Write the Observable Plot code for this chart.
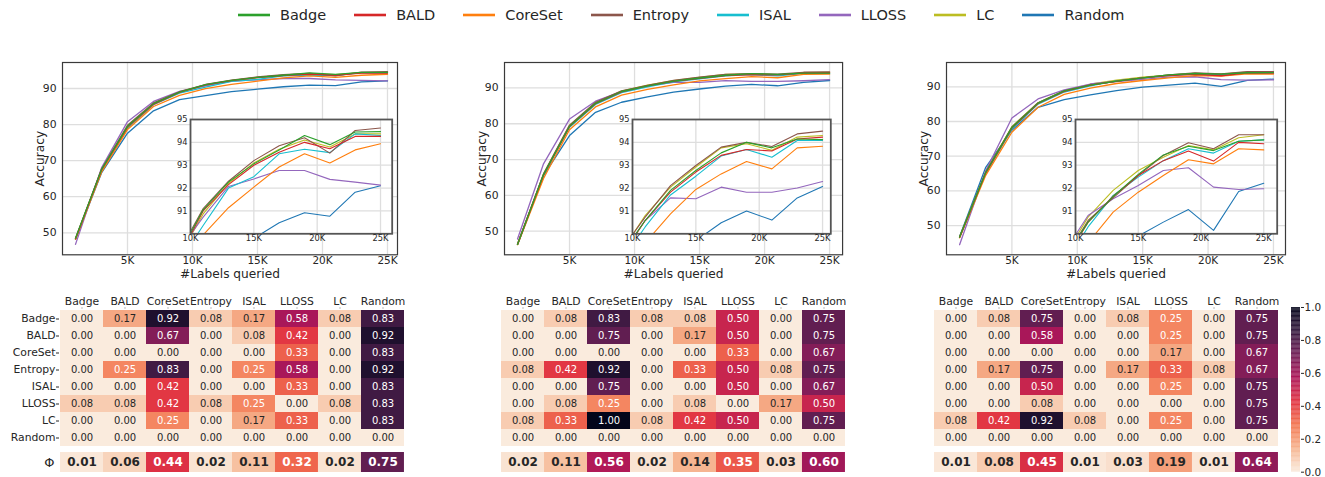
<!DOCTYPE html>
<html><head><meta charset="utf-8">
<script src="https://cdn.jsdelivr.net/npm/d3@7"></script>
<script src="https://cdn.jsdelivr.net/npm/@observablehq/plot@0.6"></script>
<style>
body{margin:0;background:#fff;font-family:"DejaVu Sans",sans-serif;}
#root{position:relative;width:1325px;height:477px;overflow:hidden;background:#fff;}
.abs{position:absolute;}
</style></head><body><div id="root"></div><script>
// ---------- data ----------
const methods = ["Badge","BALD","CoreSet","Entropy","ISAL","LLOSS","LC","Random"];
const colors  = ["#2ca02c","#d62728","#ff7f0e","#8c564b","#17becf","#9467bd","#bcbd22","#1f77b4"];
const labelsQueried = [1000,3000,5000,7000,9000,11000,13000,15000,17000,19000,21000,23000,25000];

// accuracy, rows in methods order
const acc1 = [
  [48.5,67.5,79.5,85.8,89.0,91.05,92.26,93.06,93.67,94.30,93.90,94.45,94.47],
  [48.3,67.4,79.3,85.6,88.9,91.00,92.15,93.00,93.57,94.00,93.72,94.26,94.26],
  [48.2,66.8,78.6,85.0,88.1,89.95,91.14,92.04,92.92,93.50,93.10,93.67,93.94],
  [48.4,67.6,79.8,86.0,89.1,91.10,92.30,93.20,93.85,94.20,93.53,94.52,94.63],
  [48.3,67.2,79.0,85.5,88.7,90.36,92.00,92.50,93.50,93.70,93.55,94.37,94.30],
  [46.8,68.0,80.8,86.4,89.2,90.73,92.07,92.40,92.77,92.77,92.38,92.26,92.13],
  [48.3,67.3,79.4,85.7,88.9,90.87,92.20,93.10,93.70,94.10,93.80,94.37,94.37],
  [48.2,66.6,77.6,83.8,86.9,88.00,89.10,89.80,90.48,90.92,90.77,91.82,92.10]
];
const acc2 = [
  [46.3,65.8,79.3,85.7,89.0,90.58,91.90,92.77,93.54,94.00,93.76,94.15,94.12],
  [46.3,65.7,79.2,85.6,88.9,90.58,91.82,92.70,93.43,93.69,93.62,94.15,94.23],
  [46.2,64.7,78.3,84.7,88.0,89.60,90.87,91.94,92.62,93.16,92.84,93.76,93.83],
  [46.4,66.0,79.6,86.0,89.2,90.73,92.11,92.99,93.79,94.00,93.82,94.37,94.49],
  [46.3,65.6,79.0,85.4,88.7,90.30,91.70,92.52,93.40,93.69,93.35,94.08,94.08],
  [47.8,68.8,81.3,86.3,89.0,90.58,91.57,91.53,92.04,91.82,91.82,92.00,92.29],
  [46.3,65.9,79.5,85.8,89.1,90.80,92.04,92.92,93.76,93.94,93.65,94.23,94.30],
  [46.3,65.5,76.7,83.2,86.0,87.50,88.80,89.70,90.48,91.00,90.60,91.57,92.07]
];
const acc3 = [
  [46.7,65.3,78.3,85.3,88.8,90.51,91.63,92.60,93.45,93.83,93.64,94.05,94.11],
  [46.6,65.2,78.1,85.2,88.7,90.50,91.65,92.55,93.20,93.62,93.18,94.00,93.94],
  [46.5,64.5,76.9,84.1,87.8,89.60,90.95,91.82,92.55,93.24,93.06,93.72,93.67],
  [46.7,65.4,78.4,85.4,88.8,90.58,91.57,92.55,93.43,93.98,93.72,94.33,94.33],
  [46.6,65.0,77.8,85.0,88.5,90.30,91.68,92.48,93.20,93.72,93.53,94.05,94.11],
  [44.5,65.8,81.0,86.5,89.1,90.80,91.53,92.11,92.77,92.89,92.04,91.94,91.97],
  [46.7,65.4,78.5,85.4,88.9,90.73,91.90,92.77,93.35,93.86,93.67,94.20,94.33],
  [46.8,66.8,77.5,84.1,86.3,87.70,88.90,89.90,90.51,91.06,90.15,91.85,92.21]
];

// pairwise matrices, rows/cols in methods order
const mat1 = [
  [0.00,0.17,0.92,0.08,0.17,0.58,0.08,0.83],
  [0.00,0.00,0.67,0.00,0.08,0.42,0.00,0.92],
  [0.00,0.00,0.00,0.00,0.00,0.33,0.00,0.83],
  [0.00,0.25,0.83,0.00,0.25,0.58,0.00,0.92],
  [0.00,0.00,0.42,0.00,0.00,0.33,0.00,0.83],
  [0.08,0.08,0.42,0.08,0.25,0.00,0.08,0.83],
  [0.00,0.00,0.25,0.00,0.17,0.33,0.00,0.83],
  [0.00,0.00,0.00,0.00,0.00,0.00,0.00,0.00]
];
const phi1 = [0.01,0.06,0.44,0.02,0.11,0.32,0.02,0.75];
const mat2 = [
  [0.00,0.08,0.83,0.08,0.08,0.50,0.00,0.75],
  [0.00,0.00,0.75,0.00,0.17,0.50,0.00,0.75],
  [0.00,0.00,0.00,0.00,0.00,0.33,0.00,0.67],
  [0.08,0.42,0.92,0.00,0.33,0.50,0.08,0.75],
  [0.00,0.00,0.75,0.00,0.00,0.50,0.00,0.67],
  [0.00,0.08,0.25,0.00,0.08,0.00,0.17,0.50],
  [0.08,0.33,1.00,0.08,0.42,0.50,0.00,0.75],
  [0.00,0.00,0.00,0.00,0.00,0.00,0.00,0.00]
];
const phi2 = [0.02,0.11,0.56,0.02,0.14,0.35,0.03,0.60];
const mat3 = [
  [0.00,0.08,0.75,0.00,0.08,0.25,0.00,0.75],
  [0.00,0.00,0.58,0.00,0.00,0.25,0.00,0.75],
  [0.00,0.00,0.00,0.00,0.00,0.17,0.00,0.67],
  [0.00,0.17,0.75,0.00,0.17,0.33,0.08,0.67],
  [0.00,0.00,0.50,0.00,0.00,0.25,0.00,0.75],
  [0.00,0.00,0.08,0.00,0.00,0.00,0.00,0.75],
  [0.08,0.42,0.92,0.08,0.00,0.25,0.00,0.75],
  [0.00,0.00,0.00,0.00,0.00,0.00,0.00,0.00]
];
const phi3 = [0.01,0.08,0.45,0.01,0.03,0.19,0.01,0.64];

const mainXTicks = [5000,10000,15000,20000,25000];
const mainYTicks = [50,60,70,80,90];
const insetXTicks = [10000,15000,20000,25000];
const insetYTicks = [91,92,93,94,95];
const cbarTicks = [0,0.2,0.4,0.6,0.8,1.0];

// rocket_r colormap stops
const rocketDomain = [0,1/7,2/7,3/7,4/7,5/7,6/7,1];
const rocketRange = ["#faebdd","#f6b48f","#f37651","#e13342","#ad1759","#701f57","#35193e","#03051a"];

// ---------- helpers ----------
const root = document.getElementById("root");
const FONT = "DejaVu Sans";
const TXT = "#262626";
function place(svg, left, top) {
  const d = document.createElement("div");
  d.className = "abs";
  d.style.left = left + "px";
  d.style.top = top + "px";
  d.appendChild(svg);
  root.appendChild(d);
}
function series(acc) {
  const out = [];
  for (let i = methods.length - 1; i >= 0; i--)
    labelsQueried.forEach((x, j) => out.push({method: methods[i], x, y: acc[i][j]}));
  return out;
}
const kfmt = d => (d / 1000) + "K";

function mainChart(acc, fr, xDomain, yDomain) {
  const mL = 50, mR = 10, mT = 20, mB = 32;
  const w = fr.right - fr.left, h = fr.bottom - fr.top;
  const svg = Plot.plot({
    width: w + mL + mR, height: h + mT + mB,
    marginLeft: mL, marginRight: mR, marginTop: mT, marginBottom: mB,
    style: {background: "transparent", fontFamily: FONT, fontSize: "10.5px", color: TXT, maxWidth: "none"},
    x: {domain: xDomain, axis: null},
    y: {domain: yDomain, axis: null},
    color: {domain: methods, range: colors},
    marks: [
      Plot.gridX(mainXTicks, {stroke: "#dedede", strokeOpacity: 1, strokeWidth: 1.3}),
      Plot.gridY(mainYTicks, {stroke: "#dedede", strokeOpacity: 1, strokeWidth: 1.3}),
      Plot.line(series(acc), {x: "x", y: "y", z: "method", stroke: "method", strokeWidth: 1.3}),
      Plot.frame({stroke: "#3a3a3a", strokeWidth: 1.2}),
      Plot.axisX(mainXTicks, {tickFormat: kfmt, tickSize: 0, tickPadding: 2, label: null, fill: TXT, fontSize: 10.5}),
      Plot.axisY(mainYTicks, {tickSize: 0, tickPadding: 6, label: null, fill: TXT, fontSize: 10.8}),
      Plot.text(["Accuracy"], {frameAnchor: "left", rotate: -90, dx: -22, fontSize: 12.2, textAnchor: "middle", lineAnchor: "middle", fill: TXT}),
      Plot.text(["#Labels queried"], {frameAnchor: "bottom", dy: 19, fontSize: 12.2, textAnchor: "middle", lineAnchor: "middle", fill: TXT})
    ]
  });
  place(svg, fr.left - mL, fr.top - mT);
}

function insetChart(acc, fr, xDomain) {
  const mL = 22, mR = 4, mT = 6, mB = 14;
  const w = fr.right - fr.left, h = fr.bottom - fr.top;
  const svg = Plot.plot({
    width: w + mL + mR, height: h + mT + mB,
    marginLeft: mL, marginRight: mR, marginTop: mT, marginBottom: mB,
    style: {background: "transparent", fontFamily: FONT, fontSize: "8px", color: TXT, maxWidth: "none"},
    x: {domain: xDomain, axis: null},
    y: {domain: [90, 95], axis: null},
    color: {domain: methods, range: colors},
    marks: [
      Plot.frame({fill: "white", stroke: "none"}),
      Plot.gridX([15000,20000,25000], {stroke: "#dedede", strokeOpacity: 1, strokeWidth: 1.3}),
      Plot.gridY([91,92,93,94], {stroke: "#dedede", strokeOpacity: 1, strokeWidth: 1.3}),
      Plot.line(series(acc), {x: "x", y: "y", z: "method", stroke: "method", strokeWidth: 1.1, clip: true}),
      Plot.frame({stroke: "#555", strokeWidth: 1.8}),
      Plot.axisX(insetXTicks, {tickFormat: kfmt, tickSize: 0, tickPadding: 1, label: null, fill: TXT, fontSize: 8.3}),
      Plot.axisY(insetYTicks, {tickSize: 0, tickPadding: 3, label: null, fill: TXT, fontSize: 8.3})
    ]
  });
  place(svg, fr.left - mL, fr.top - mT);
}

const colorOpts = {type: "linear", domain: rocketDomain, range: rocketRange, interpolate: "rgb"};

function heatmap(mat, phi, left, showRows) {
  const mL = 62, mR = 2, mT = 18, mB = 2;
  const W = 346, H = 140;
  const cells = [];
  mat.forEach((row, i) => row.forEach((v, j) => cells.push({r: methods[i], c: methods[j], v})));
  const marks = [
    Plot.cell(cells, {x: "c", y: "r", fill: "v"}),
    Plot.text(cells.filter(d => d.v <= 0.2), {x: "c", y: "r", text: d => d.v.toFixed(2), fill: TXT, fontSize: 10}),
    Plot.text(cells.filter(d => d.v > 0.2), {x: "c", y: "r", text: d => d.v.toFixed(2), fill: "white", fontSize: 10}),
    Plot.axisX({anchor: "top", tickSize: 2, tickPadding: 2, label: null, fill: TXT, stroke: "#bbb", fontSize: 10.8})
  ];
  if (showRows) marks.push(Plot.axisY({anchor: "left", tickSize: 3, tickPadding: 1, label: null, fill: TXT, stroke: TXT, fontSize: 10.8}));
  const svg = Plot.plot({
    width: W + mL + mR, height: H + mT + mB,
    marginLeft: mL, marginRight: mR, marginTop: mT, marginBottom: mB,
    style: {background: "transparent", fontFamily: FONT, fontSize: "10.8px", color: TXT, maxWidth: "none"},
    x: {domain: methods, padding: 0, axis: null},
    y: {domain: methods, padding: 0, axis: null},
    color: colorOpts,
    marks
  });
  place(svg, left - mL, 307.7 - mT);

  const pcells = phi.map((v, j) => ({r: "Φ", c: methods[j], v}));
  const pmarks = [
    Plot.cell(pcells, {x: "c", y: "r", fill: "v"}),
    Plot.text(pcells.filter(d => d.v <= 0.2), {x: "c", y: "r", text: d => d.v.toFixed(2), fill: TXT, fontSize: 12, fontWeight: "bold"}),
    Plot.text(pcells.filter(d => d.v > 0.2), {x: "c", y: "r", text: d => d.v.toFixed(2), fill: "white", fontSize: 12, fontWeight: "bold"})
  ];
  if (showRows) pmarks.push(Plot.axisY({anchor: "left", tickSize: 0, tickPadding: 5, label: null, fill: TXT, fontSize: 13}));
  const svg2 = Plot.plot({
    width: W + mL + mR, height: 20.6 + 4,
    marginLeft: mL, marginRight: mR, marginTop: 2, marginBottom: 2,
    style: {background: "transparent", fontFamily: FONT, fontSize: "13px", color: TXT, maxWidth: "none"},
    x: {domain: methods, padding: 0, axis: null},
    y: {domain: ["Φ"], padding: 0, axis: null},
    color: colorOpts,
    marks: pmarks
  });
  place(svg2, left - mL, 451.7 - 2);
}

function colorbar(fr) {
  const mL = 1, mR = 26, mT = 6, mB = 6;
  const step = 0.005;
  const bins = d3.range(0, 1, step);
  const svg = Plot.plot({
    width: (fr.right - fr.left) + mL + mR, height: (fr.bottom - fr.top) + mT + mB,
    marginLeft: mL, marginRight: mR, marginTop: mT, marginBottom: mB,
    style: {background: "transparent", fontFamily: FONT, fontSize: "10.5px", color: TXT, maxWidth: "none"},
    x: {domain: [0, 1], axis: null},
    y: {domain: [0, 1], axis: null},
    color: colorOpts,
    marks: [
      Plot.rect(bins, {x1: () => 0, x2: () => 1, y1: d => d, y2: d => Math.min(1, d + step * 1.2), fill: d => d + step / 2}),
      Plot.axisY(cbarTicks, {anchor: "right", tickSize: 3, tickPadding: 1, tickFormat: d3.format(".1f"), label: null, fill: TXT, stroke: TXT, fontSize: 10.5})
    ]
  });
  place(svg, fr.left - mL, fr.top - mT);
}

// ---------- legend ----------
(function legend() {
  const lg = document.createElement("div");
  lg.className = "abs";
  lg.style.cssText = "position:absolute;left:238px;top:7px;display:flex;align-items:center;font-family:'DejaVu Sans';font-size:14.5px;color:#262626;white-space:nowrap;";
  methods.forEach((m, i) => {
    const it = document.createElement("span");
    it.style.cssText = "display:inline-flex;align-items:center;margin-right:" + (i < methods.length - 1 ? 28 : 0) + "px;";
    it.innerHTML = `<svg width="32" height="6" style="display:block"><line x1="0" x2="32" y1="3" y2="3" stroke="${colors[i]}" stroke-width="2.6"/></svg><span style="margin-left:10px">${m}</span>`;
    lg.appendChild(it);
  });
  root.appendChild(lg);
})();

// ---------- charts ----------
mainChart(acc1, {left: 62, right: 397, top: 62, bottom: 254.3}, [0, 25770], [43.9, 97.2]);
mainChart(acc2, {left: 503.6, right: 841.7, top: 62, bottom: 254.3}, [0, 26000], [43.4, 97.1]);
mainChart(acc3, {left: 946, right: 1285, top: 62, bottom: 254.3}, [0, 25920], [41.6, 97.0]);

insetChart(acc1, {left: 190, right: 391.7, top: 119, bottom: 233.3}, [10000, 25920]);
insetChart(acc2, {left: 631.7, right: 830, top: 119, bottom: 233.3}, [10000, 25650]);
insetChart(acc3, {left: 1075, right: 1276.7, top: 119, bottom: 233.3}, [10000, 26070]);

heatmap(mat1, phi1, 59, true);
heatmap(mat2, phi2, 500, false);
heatmap(mat3, phi3, 933.3, false);

colorbar({left: 1291, right: 1300, top: 307.3, bottom: 472});
</script></body></html>
